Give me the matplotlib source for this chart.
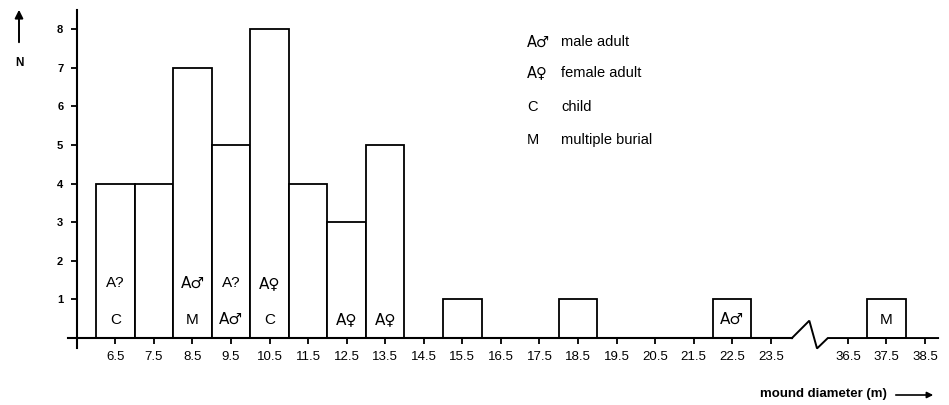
import matplotlib
matplotlib.use("Agg")
import matplotlib.pyplot as plt

plt.rcParams['font.family'] = ['Liberation Sans', 'DejaVu Sans']

# ---- data ----
centers = [6.5, 7.5, 8.5, 9.5, 10.5, 11.5, 12.5, 13.5, 14.5, 15.5, 16.5,
           17.5, 18.5, 19.5, 20.5, 21.5, 22.5, 23.5, 36.5, 37.5, 38.5]
counts = [4, 4, 7, 5, 8, 4, 3, 5, 0, 1, 0, 0, 1, 0, 0, 0, 1, 0, 0, 1, 0]
labels_top = ["A?", "", "A\u2642", "A?", "A\u2640", "", "", "", "", "", "",
              "", "", "", "", "", "", "", "", "", ""]
labels_bottom = ["C", "", "M", "A\u2642", "C", "", "A\u2640", "A\u2640", "", "", "",
                 "", "", "", "", "", "A\u2642", "", "", "M", ""]
tick_labels = [f"{c:g}" for c in centers]
y_ticks = [1, 2, 3, 4, 5, 6, 7, 8]
legend_codes = ["A\u2642", "A\u2640", "C", "M"]
legend_desc = ["male adult", "female adult", "child", "multiple burial"]

BREAK_LO, BREAK_HI = 24, 36
SHIFT = 11
SYMS = ("\u2642", "\u2640")


def tx(v):
    return v if v <= BREAK_LO else v - SHIFT


def fam(s):
    if any(c in s for c in SYMS):
        return ['DejaVu Sans']
    return ['Liberation Sans', 'DejaVu Sans']


W, H = 949, 405
fig = plt.figure(figsize=(W / 100, H / 100), dpi=100)
ax = fig.add_axes([0.0687, 0.1415, 0.9263, 0.8338])
ax.set_xlim(5.2, 28.0)
ax.set_ylim(-0.25, 8.5)

xs = [tx(c) for c in centers]

# bars
bx = [x for x, n in zip(xs, counts) if n > 0]
bn = [n for n in counts if n > 0]
ax.bar(bx, bn, width=1.0, facecolor='white', edgecolor='black', linewidth=1.3, zorder=2)

# bar labels
for x, t, b in zip(xs, labels_top, labels_bottom):
    if t:
        ax.text(x, 1.42, t, ha='center', va='center', fontsize=11, family=fam(t), zorder=3)
    if b:
        ax.text(x, 0.48, b, ha='center', va='center', fontsize=11, family=fam(b), zorder=3)

# axes styling
for s in ['top', 'right']:
    ax.spines[s].set_visible(False)
ax.spines['bottom'].set_position(('data', 0))
ax.spines['bottom'].set_bounds(5.28, 24.05)
ax.spines['bottom'].set_linewidth(1.5)
ax.spines['left'].set_position(('data', 5.51))
ax.spines['left'].set_bounds(-0.25, 8.5)
ax.spines['left'].set_linewidth(1.5)

# break zigzag + right-hand axis part
ax.plot([24.05, 24.50, 24.70, 24.98, 27.84], [0, 0.45, -0.27, 0, 0],
        color='black', lw=1.4, clip_on=False, zorder=4, solid_joinstyle='miter')

ax.set_xticks(xs)
ax.set_xticklabels(tick_labels)
ax.set_yticks(y_ticks)
ax.set_yticklabels([str(v) for v in y_ticks])
ax.tick_params(axis='x', direction='out', length=4, width=1.3, pad=5, labelsize=9.5)
ax.tick_params(axis='y', direction='out', length=4, width=1.3, pad=6, labelsize=8)
for lab in ax.get_yticklabels():
    lab.set_fontweight('bold')

# N arrow
fig.patches.append(matplotlib.patches.FancyArrowPatch(
    (19 / W, 1 - 45 / H), (19 / W, 1 - 7 / H), transform=fig.transFigure,
    arrowstyle='-|>', mutation_scale=12, color='black', lw=1.4))
fig.text(19 / W, 1 - 63 / H, "N", ha='center', va='center', fontsize=8.5, fontweight='bold')

# legend
rows_y = [42, 73, 107, 140]
for y, c, d in zip(rows_y, legend_codes, legend_desc):
    fig.text(527 / W, 1 - y / H, c, ha='left', va='center', fontsize=10.5, family=fam(c))
    fig.text(561 / W, 1 - y / H, d, ha='left', va='center', fontsize=10.5)

# x axis label with arrow
fig.text(887 / W, 1 - 394 / H, "mound diameter (m)", ha='right', va='center',
         fontsize=9.5, fontweight='bold')
fig.patches.append(matplotlib.patches.FancyArrowPatch(
    (893 / W, 1 - 395 / H), (936 / W, 1 - 395 / H), transform=fig.transFigure,
    arrowstyle='-|>', mutation_scale=9, color='black', lw=1.2))

fig.savefig("out.png", dpi=100, facecolor='white')
